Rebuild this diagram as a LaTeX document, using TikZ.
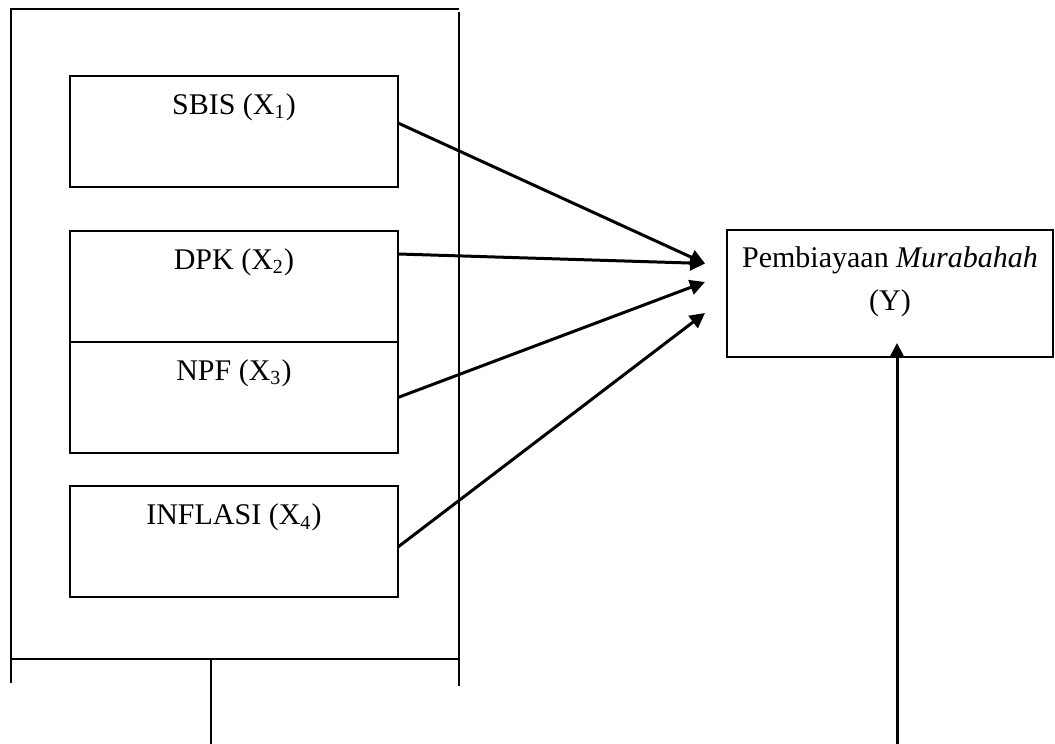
\documentclass[tikz,border=0pt]{standalone}
\usepackage{fontspec}
\setmainfont{Liberation Serif}
\usetikzlibrary{calc,arrows.meta}
\tikzset{
  varbox/.style ={rectangle, draw=black, line width=0.8pt, fill=white,
                  minimum width=131.2pt, minimum height=44.4pt,
                  inner sep=0pt, outer sep=0pt},
  vartxt/.style ={anchor=base, yshift=-15.4pt, inner sep=0pt,
                  font=\fontsize{12}{14}\selectfont},
  ybox/.style   ={varbox, minimum width=130.4pt, minimum height=50.8pt},
  ytxt/.style   ={anchor=north, yshift=-6.6pt, inner sep=0pt, align=center,
                  font=\fontsize{12}{17.2}\selectfont},
  frm/.style    ={line width=0.8pt, draw=black},
  fl/.style     ={-{Triangle[length=6pt,width=6pt]}, line width=1.2pt, draw=black}
}
\begin{document}
\begin{tikzpicture}[x=0.4pt,y=-0.4pt]
  \useasboundingbox (0,0) rectangle (1055,744);
  % --- outer frame round the independent variables
  \draw[frm] (11,659) -- (11,9.5) -- (459,9.5);
  \draw[frm] (459,12) -- (459,686);
  \draw[frm] (11,683) -- (11,659) -- (459,659);
  \coordinate (fbot) at (211,744);
  \draw[frm] (211,659) -- (fbot);
  % --- independent variables
  \node[varbox, label={[vartxt]north:SBIS (X\textsubscript{1})}]    (sbis) at (234,131.5) {};
  \node[varbox, label={[vartxt]north:DPK (X\textsubscript{2})}]     (dpk)  at (234,286.5) {};
  \node[varbox, label={[vartxt]north:NPF (X\textsubscript{3})}]     (npf)  at (234,397.5) {};
  \node[varbox, label={[vartxt]north:INFLASI (X\textsubscript{4})}] (infl) at (234,542)   {};
  % --- dependent variable
  \node[ybox, label={[ytxt]north:Pembiayaan \textit{Murabahah}\\(Y)}] (murab) at (890,293.5) {};

  \draw[fl] ($(sbis.east)+(0,-8.5)$)  -- ($(murab.west)+(-22,-30)$);
  \draw[fl] ($(dpk.east)+(0,-32.5)$)  -- ($(murab.west)+(-22,-30)$);
  \draw[fl] (npf.east)                -- ($(murab.west)+(-22,-11.5)$);
  \draw[fl] ($(infl.east)+(0,5)$)     -- ($(murab.west)+(-22,19.5)$);
  \coordinate (ybot) at (897,744);
  \draw[fl] (ybot) -- (ybot |- {$(murab.south)+(0,-14)$});
\end{tikzpicture}
\end{document}
